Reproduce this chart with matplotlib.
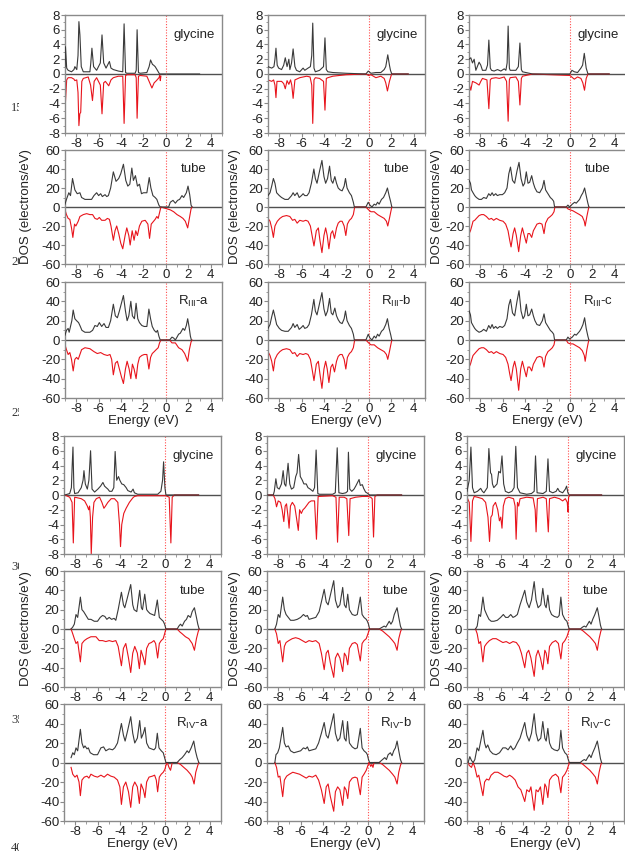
import matplotlib
matplotlib.use('Agg')
import matplotlib.pyplot as plt
from matplotlib.ticker import MultipleLocator
from matplotlib.transforms import Bbox

plt.rcParams['font.family'] = ['Liberation Sans', 'DejaVu Sans']
plt.rcParams['axes.unicode_minus'] = False

# ---- data: (energy eV, DOS) ----
# upper block: glycine / tube / R_III
gly3_a_up = [(-9.0, 1.0), (-8.96, 3.7), (-8.85, 0.8), (-8.72, 0.5), (-8.42, 0.3), (-8.2, 0.6), (-8.12, 1.0),
             (-7.95, 0.6), (-7.84, 2.5), (-7.76, 7.1), (-7.67, 5.3), (-7.55, 1.0), (-7.37, 0.3), (-6.78, 0.3),
             (-6.7, 1.5), (-6.6, 3.5), (-6.45, 1.0), (-6.18, 0.5), (-5.85, 1.5), (-5.7, 5.3), (-5.55, 1.5),
             (-5.34, 0.8), (-5.04, 1.7), (-4.9, 0.8), (-4.69, 0.6), (-4.24, 0.4), (-3.85, 0.3), (-3.73, 6.8),
             (-3.6, 0.2), (-3.49, 0.1), (-2.75, 0.1), (-2.65, 0.5), (-2.57, 6.0), (-2.45, 0.2), (-2.3, 0.1),
             (-1.7, 0.2), (-1.5, 1.0), (-1.37, 1.9), (-1.2, 1.3), (-1.1, 1.2), (-0.96, 1.0), (-0.8, 0.6),
             (-0.57, 0.0), (3.0, 0.0)]
gly3_a_dn = [(-9.0, -1.0), (-8.96, -3.8), (-8.85, -0.8), (-8.72, -0.5), (-8.42, -0.5), (-8.2, -0.7),
             (-8.12, -0.9), (-7.95, -0.8), (-7.84, -2.5), (-7.76, -7.0), (-7.68, -5.4), (-7.6, -5.2),
             (-7.5, -1.0), (-7.37, -0.6), (-6.93, -0.4), (-6.72, -1.5), (-6.55, -3.6), (-6.4, -1.0),
             (-6.18, -0.5), (-5.85, -1.5), (-5.7, -5.4), (-5.55, -1.2), (-5.4, -1.0), (-5.1, -1.6),
             (-4.9, -0.8), (-4.69, -0.5), (-4.24, -0.3), (-3.85, -0.3), (-3.73, -6.7), (-3.6, -0.2),
             (-3.45, -0.1), (-2.75, -0.1), (-2.65, -0.5), (-2.57, -6.0), (-2.45, -0.3), (-2.3, -0.2),
             (-1.7, -0.3), (-1.5, -1.0), (-1.25, -1.9), (-1.05, -1.2), (-0.85, -0.9), (-0.62, -0.5),
             (-0.55, -0.2), (-0.5, -0.9), (-0.45, -0.3)]
gly3_b_up = [(-9.0, 1.0), (-8.67, 0.8), (-8.47, 1.0), (-8.38, 2.0), (-8.29, 3.5), (-8.18, 1.2), (-8.05, 0.8),
             (-7.79, 0.6), (-7.6, 1.2), (-7.46, 2.2), (-7.3, 1.0), (-7.14, 2.0), (-7.05, 0.6), (-6.9, 1.5),
             (-6.76, 3.4), (-6.6, 1.0), (-6.46, 0.5), (-6.17, 0.3), (-5.87, 0.8), (-5.72, 0.5), (-5.43, 0.8),
             (-5.22, 1.0), (-5.1, 2.5), (-5.01, 6.9), (-4.9, 0.8), (-4.78, 0.3), (-4.4, 0.5), (-4.05, 1.0),
             (-3.92, 4.9), (-3.8, 0.6), (-3.66, 0.3), (-3.22, 0.2), (-2.04, 0.1), (-0.27, 0.0), (-0.06, 0.4),
             (0.18, 0.1), (0.62, 0.2), (1.06, 0.2), (1.36, 0.6), (1.5, 1.0), (1.68, 2.6), (1.83, 1.2),
             (1.92, 0.5), (2.04, 0.0), (3.5, 0.0)]
gly3_b_dn = [(-9.0, -0.8), (-8.67, -1.0), (-8.5, -0.8), (-8.38, -1.5), (-8.29, -3.2), (-8.2, -1.0),
             (-7.79, -1.0), (-7.6, -1.3), (-7.46, -2.0), (-7.3, -0.9), (-7.14, -1.4), (-6.99, -0.8),
             (-6.88, -1.5), (-6.76, -3.3), (-6.6, -0.8), (-6.17, -0.5), (-5.55, -0.3), (-5.25, -0.4),
             (-5.1, -1.5), (-5.01, -6.7), (-4.9, -0.8), (-4.78, -0.5), (-4.4, -0.6), (-4.05, -1.0),
             (-3.92, -4.9), (-3.8, -0.6), (-3.66, -0.5), (-3.22, -0.3), (-2.04, -0.1), (-0.27, 0.0),
             (-0.03, -0.2), (0.18, -0.1), (0.62, -0.5), (1.06, -0.3), (1.36, -0.6), (1.5, -1.2),
             (1.65, -2.3), (1.83, -1.0), (2.02, 0.0), (3.5, 0.0)]
gly3_c_up = [(-9.0, 2.0), (-8.84, 2.2), (-8.69, 1.5), (-8.54, 2.0), (-8.39, 0.5), (-8.1, 1.6), (-7.95, 1.2),
             (-7.8, 0.5), (-7.5, 0.5), (-7.35, 1.2), (-7.23, 4.6), (-7.1, 0.8), (-6.99, 0.5), (-6.76, 0.4),
             (-6.46, 0.6), (-6.16, 0.4), (-5.86, 0.7), (-5.71, 0.5), (-5.6, 1.5), (-5.51, 6.5), (-5.4, 0.8),
             (-5.33, 0.5), (-4.82, 0.5), (-4.6, 1.0), (-4.46, 4.2), (-4.33, 0.6), (-4.23, 0.3), (-3.63, 0.1),
             (-3.33, 0.0), (0.0, 0.0), (0.18, 0.5), (0.39, 0.3), (0.68, 0.2), (0.98, 0.8), (1.13, 1.2),
             (1.28, 2.8), (1.45, 0.8), (1.61, 0.0), (3.5, 0.0)]
gly3_c_dn = [(-9.0, -1.3), (-8.84, -2.2), (-8.69, -1.0), (-8.39, -1.2), (-8.1, -1.5), (-7.95, -1.0),
             (-7.8, -0.6), (-7.4, -0.8), (-7.23, -4.7), (-7.1, -0.8), (-6.99, -0.6), (-6.6, -0.5),
             (-6.3, -0.6), (-5.86, -0.4), (-5.65, -1.0), (-5.51, -6.4), (-5.4, -0.8), (-5.33, -0.5),
             (-4.82, -0.4), (-4.6, -1.0), (-4.46, -4.2), (-4.33, -0.6), (-4.23, -0.3), (-3.63, -0.1),
             (-3.33, 0.0), (0.0, -0.2), (0.39, -0.7), (0.68, -0.4), (0.98, -0.6), (1.15, -1.2), (1.3, -2.2),
             (1.45, -0.6), (1.61, 0.0), (3.5, 0.0)]

tube3_a_up = [(-9.0, 3), (-8.87, 8), (-8.66, 15), (-8.51, 12), (-8.33, 30), (-8.12, 18), (-7.91, 14),
              (-7.67, 15), (-7.52, 10), (-7.22, 8), (-6.63, 8), (-6.42, 12), (-6.18, 15), (-6.0, 12),
              (-5.82, 14), (-5.67, 11), (-5.43, 13), (-5.28, 11), (-5.13, 12), (-4.93, 20), (-4.69, 37),
              (-4.45, 27), (-4.21, 30), (-4.03, 35), (-3.79, 45), (-3.58, 28), (-3.4, 22), (-3.22, 24),
              (-3.04, 41), (-2.9, 28), (-2.72, 33), (-2.54, 22), (-2.36, 24), (-2.18, 14), (-2.0, 15),
              (-1.7, 15), (-1.49, 31), (-1.34, 20), (-1.16, 12), (-0.96, 10), (-0.81, 8), (-0.63, 2),
              (-0.51, 0), (0.24, 0), (0.39, 5), (0.63, 7), (0.84, 4), (1.04, 7), (1.22, 8), (1.43, 12),
              (1.58, 10), (1.82, 15), (1.97, 22), (2.12, 13), (2.24, 2), (2.33, 0)]
tube3_a_dn = [(-9.0, -3), (-8.87, -8), (-8.72, -12), (-8.57, -13), (-8.42, -22), (-8.3, -32), (-8.15, -18),
              (-8.03, -20), (-7.82, -15), (-7.67, -10), (-7.37, -8), (-7.07, -7), (-6.78, -8), (-6.54, -8),
              (-6.33, -12), (-6.12, -13), (-5.94, -11), (-5.73, -14), (-5.43, -14), (-5.22, -12),
              (-5.04, -13), (-4.9, -20), (-4.69, -35), (-4.54, -25), (-4.39, -20), (-4.21, -28),
              (-4.03, -38), (-3.85, -44), (-3.64, -30), (-3.49, -22), (-3.31, -30), (-3.19, -40),
              (-3.01, -25), (-2.84, -35), (-2.69, -25), (-2.54, -30), (-2.36, -20), (-2.15, -15),
              (-1.85, -14), (-1.61, -18), (-1.46, -33), (-1.31, -18), (-1.1, -15), (-0.96, -13),
              (-0.81, -10), (-0.69, -12), (-0.57, -6), (-0.45, 0), (0.39, -3), (0.69, -5), (0.99, -8),
              (1.28, -10), (1.52, -12), (1.73, -15), (1.94, -22), (2.09, -12), (2.24, -2), (2.33, 0)]
r3_a_up = [(-9.0, 5), (-8.87, 10), (-8.72, 12), (-8.63, 8), (-8.51, 14), (-8.39, 20), (-8.27, 31), (-8.12, 22),
           (-7.97, 20), (-7.79, 18), (-7.67, 15), (-7.49, 10), (-7.22, 8), (-6.78, 8), (-6.54, 10), (-6.33, 15),
           (-6.12, 14), (-5.94, 18), (-5.73, 14), (-5.52, 17), (-5.34, 13), (-5.13, 13), (-4.93, 20),
           (-4.69, 37), (-4.51, 25), (-4.33, 23), (-4.15, 30), (-3.97, 38), (-3.79, 46), (-3.61, 30),
           (-3.46, 20), (-3.31, 25), (-3.13, 40), (-2.99, 25), (-2.81, 22), (-2.66, 38), (-2.51, 22),
           (-2.36, 18), (-2.15, 15), (-1.94, 14), (-1.7, 14), (-1.52, 32), (-1.37, 22), (-1.22, 14),
           (-1.04, 10), (-0.87, 8), (-0.75, 10), (-0.63, 4), (-0.51, 0), (0.33, 0), (0.54, 3), (0.69, 2),
           (0.84, 0), (0.99, 3), (1.13, 6), (1.28, 7), (1.52, 12), (1.67, 10), (1.82, 15), (1.94, 22),
           (2.06, 14), (2.18, 4), (2.27, 0)]
r3_a_dn = [(-9.0, -5), (-8.87, -10), (-8.72, -15), (-8.57, -13), (-8.42, -20), (-8.27, -32), (-8.12, -20),
           (-7.97, -18), (-7.82, -20), (-7.67, -15), (-7.52, -10), (-7.22, -8), (-6.78, -9), (-6.42, -12),
           (-6.12, -14), (-5.82, -13), (-5.52, -15), (-5.22, -16), (-4.99, -15), (-4.84, -20), (-4.69, -36),
           (-4.51, -24), (-4.33, -22), (-4.15, -30), (-3.97, -38), (-3.79, -45), (-3.61, -30), (-3.46, -22),
           (-3.28, -30), (-3.13, -40), (-2.99, -25), (-2.84, -30), (-2.66, -40), (-2.51, -25), (-2.36, -18),
           (-2.15, -16), (-1.94, -15), (-1.7, -15), (-1.52, -30), (-1.37, -18), (-1.22, -14), (-1.04, -12),
           (-0.87, -10), (-0.69, -8), (-0.57, -3), (-0.45, 0), (0.33, 0), (0.54, -3), (0.84, -3),
           (1.13, -8), (1.43, -10), (1.67, -14), (1.94, -22), (2.09, -10), (2.24, -2), (2.33, 0)]

tube3_b_up = [(-9.0, 12), (-8.82, 15), (-8.67, 22), (-8.52, 30), (-8.38, 25), (-8.23, 15), (-7.99, 12),
              (-7.79, 10), (-7.49, 8), (-7.2, 8), (-6.9, 12), (-6.76, 15), (-6.61, 12), (-6.4, 15), (-6.22, 10),
              (-6.02, 12), (-5.87, 14), (-5.72, 12), (-5.52, 12), (-5.34, 15), (-5.13, 25), (-4.91, 40),
              (-4.78, 30), (-4.63, 25), (-4.4, 38), (-4.19, 49), (-4.01, 32), (-3.86, 25), (-3.69, 30),
              (-3.51, 43), (-3.36, 28), (-3.22, 25), (-3.04, 32), (-2.89, 25), (-2.74, 20), (-2.57, 18),
              (-2.39, 17), (-2.21, 22), (-2.09, 30), (-1.95, 20), (-1.74, 15), (-1.56, 12), (-1.39, 5),
              (-1.3, 0), (-0.27, 0), (-0.06, 5), (0.09, 2), (0.27, 0), (0.47, 3), (0.62, 2), (0.77, 5),
              (0.91, 3), (1.12, 8), (1.3, 10), (1.5, 15), (1.65, 20), (1.8, 12), (1.95, 5), (2.04, 0)]
tube3_b_dn = [(-9.0, -12), (-8.82, -15), (-8.67, -22), (-8.52, -32), (-8.38, -20), (-8.17, -15), (-7.94, -12),
              (-7.7, -10), (-7.35, -9), (-7.05, -10), (-6.81, -14), (-6.61, -13), (-6.4, -17), (-6.17, -14),
              (-5.87, -15), (-5.63, -14), (-5.43, -15), (-5.22, -20), (-5.07, -30), (-4.9, -41), (-4.69, -25),
              (-4.51, -22), (-4.37, -35), (-4.19, -48), (-4.01, -30), (-3.86, -22), (-3.72, -30),
              (-3.57, -44), (-3.39, -28), (-3.24, -25), (-3.07, -33), (-2.89, -22), (-2.74, -17),
              (-2.57, -15), (-2.39, -15), (-2.21, -20), (-2.06, -30), (-1.92, -18), (-1.74, -14),
              (-1.56, -12), (-1.39, -8), (-1.27, 0), (-0.27, 0), (-0.03, -3), (0.18, -5), (0.47, -5),
              (0.77, -8), (1.06, -10), (1.36, -12), (1.56, -15), (1.68, -20), (1.83, -12), (1.95, -5), (2.04, 0)]
r3_b_up = [(-9.0, 12), (-8.82, 16), (-8.67, 24), (-8.52, 31), (-8.38, 24), (-8.23, 16), (-7.99, 12), (-7.79, 10),
           (-7.49, 9), (-7.2, 9), (-6.9, 13), (-6.76, 17), (-6.61, 13), (-6.4, 16), (-6.22, 11), (-6.02, 13),
           (-5.87, 15), (-5.72, 12), (-5.52, 13), (-5.34, 16), (-5.13, 26), (-4.91, 42), (-4.78, 30),
           (-4.63, 26), (-4.4, 38), (-4.19, 49), (-4.01, 32), (-3.86, 25), (-3.69, 30), (-3.51, 43),
           (-3.36, 28), (-3.22, 26), (-3.04, 33), (-2.89, 25), (-2.74, 21), (-2.57, 18), (-2.39, 17),
           (-2.21, 22), (-2.09, 30), (-1.95, 20), (-1.74, 15), (-1.56, 12), (-1.39, 6), (-1.3, 0), (-0.27, 0),
           (-0.06, 6), (0.09, 2), (0.27, 0), (0.47, 4), (0.62, 2), (0.77, 6), (0.91, 4), (1.12, 9), (1.3, 11),
           (1.5, 16), (1.65, 22), (1.8, 12), (1.95, 5), (2.04, 0)]
r3_b_dn = [(-9.0, -12), (-8.82, -16), (-8.67, -22), (-8.52, -32), (-8.38, -20), (-8.17, -15), (-7.94, -12),
           (-7.7, -10), (-7.35, -9), (-7.05, -10), (-6.81, -14), (-6.61, -13), (-6.4, -17), (-6.17, -14),
           (-5.87, -15), (-5.63, -14), (-5.43, -15), (-5.22, -20), (-5.07, -30), (-4.9, -42), (-4.69, -25),
           (-4.51, -22), (-4.37, -35), (-4.19, -50), (-4.01, -30), (-3.86, -22), (-3.72, -30), (-3.57, -44),
           (-3.39, -28), (-3.24, -25), (-3.07, -33), (-2.89, -22), (-2.74, -17), (-2.57, -15), (-2.39, -15),
           (-2.21, -20), (-2.06, -30), (-1.92, -18), (-1.74, -14), (-1.56, -12), (-1.39, -8), (-1.27, 0),
           (-0.27, 0), (-0.03, -3), (0.18, -5), (0.47, -5), (0.77, -8), (1.06, -10), (1.36, -12),
           (1.56, -15), (1.68, -20), (1.83, -12), (1.95, -5), (2.04, 0)]

tube3_c_up = [(-8.99, 28), (-8.87, 25), (-8.78, 18), (-8.64, 15), (-8.49, 12), (-8.34, 10), (-8.1, 8),
              (-7.89, 8), (-7.69, 10), (-7.45, 9), (-7.24, 14), (-7.09, 12), (-6.94, 15), (-6.8, 12),
              (-6.62, 14), (-6.47, 12), (-6.26, 13), (-6.02, 13), (-5.82, 15), (-5.61, 20), (-5.45, 35),
              (-5.3, 42), (-5.12, 28), (-4.93, 25), (-4.72, 38), (-4.54, 47), (-4.36, 30), (-4.18, 22),
              (-4.04, 25), (-3.89, 37), (-3.74, 25), (-3.59, 26), (-3.41, 33), (-3.26, 25), (-3.12, 20),
              (-2.94, 16), (-2.7, 15), (-2.46, 20), (-2.31, 28), (-2.17, 18), (-1.96, 14), (-1.75, 10),
              (-1.57, 8), (-1.45, 6), (-1.37, 0), (-0.33, 0), (-0.18, 2), (-0.03, 0), (0.21, 3), (0.42, 5),
              (0.56, 4), (0.71, 6), (0.86, 8), (1.01, 12), (1.16, 15), (1.31, 20), (1.45, 12), (1.6, 4),
              (1.69, 0)]
tube3_c_dn = [(-8.99, -28), (-8.87, -25), (-8.75, -20), (-8.64, -15), (-8.49, -14), (-8.34, -12), (-8.1, -9),
              (-7.89, -8), (-7.69, -8), (-7.45, -10), (-7.21, -13), (-7.0, -12), (-6.8, -14), (-6.56, -12),
              (-6.26, -14), (-5.96, -15), (-5.73, -18), (-5.52, -25), (-5.37, -35), (-5.25, -42),
              (-5.07, -28), (-4.93, -22), (-4.78, -30), (-4.57, -47), (-4.39, -30), (-4.24, -22),
              (-4.07, -30), (-3.89, -38), (-3.74, -28), (-3.59, -28), (-3.41, -32), (-3.26, -25),
              (-3.12, -22), (-2.94, -18), (-2.7, -17), (-2.49, -18), (-2.31, -28), (-2.17, -17),
              (-1.96, -12), (-1.75, -10), (-1.57, -8), (-1.42, -5), (-1.34, 0), (-0.33, 0), (-0.18, -2),
              (0.03, -3), (0.27, -4), (0.56, -6), (0.86, -8), (1.1, -10), (1.28, -15), (1.36, -20),
              (1.51, -10), (1.63, -3), (1.69, 0)]
r3_c_up = [(-8.99, 30), (-8.87, 26), (-8.78, 18), (-8.64, 15), (-8.49, 12), (-8.34, 10), (-8.1, 8), (-7.89, 9),
           (-7.69, 11), (-7.45, 9), (-7.24, 15), (-7.09, 12), (-6.94, 16), (-6.8, 12), (-6.62, 14), (-6.47, 12),
           (-6.26, 14), (-6.02, 13), (-5.82, 15), (-5.61, 22), (-5.45, 36), (-5.3, 42), (-5.12, 28),
           (-4.93, 25), (-4.72, 40), (-4.54, 51), (-4.36, 30), (-4.18, 22), (-4.04, 25), (-3.89, 37),
           (-3.74, 25), (-3.59, 26), (-3.41, 32), (-3.26, 25), (-3.12, 20), (-2.94, 16), (-2.7, 15),
           (-2.46, 20), (-2.31, 27), (-2.17, 18), (-1.96, 14), (-1.75, 10), (-1.57, 8), (-1.45, 6), (-1.37, 0),
           (-0.33, 0), (-0.18, 3), (-0.03, 1), (0.21, 3), (0.42, 6), (0.56, 5), (0.71, 7), (0.86, 9),
           (1.01, 12), (1.16, 16), (1.31, 23), (1.45, 12), (1.6, 4), (1.69, 0)]
r3_c_dn = [(-8.99, -28), (-8.87, -25), (-8.75, -20), (-8.64, -16), (-8.49, -14), (-8.34, -12), (-8.1, -9),
           (-7.89, -8), (-7.69, -8), (-7.45, -10), (-7.21, -13), (-7.0, -12), (-6.8, -14), (-6.56, -12),
           (-6.26, -14), (-5.96, -15), (-5.73, -18), (-5.52, -25), (-5.37, -35), (-5.25, -42), (-5.07, -28),
           (-4.93, -22), (-4.78, -30), (-4.57, -52), (-4.39, -30), (-4.24, -22), (-4.07, -30), (-3.89, -38),
           (-3.74, -28), (-3.59, -28), (-3.41, -32), (-3.26, -25), (-3.12, -22), (-2.94, -18), (-2.7, -17),
           (-2.49, -18), (-2.31, -28), (-2.17, -17), (-1.96, -12), (-1.75, -10), (-1.57, -8), (-1.42, -5),
           (-1.34, 0), (-0.33, 0), (-0.18, -3), (0.03, -4), (0.27, -4), (0.56, -6), (0.86, -8), (1.1, -11),
           (1.28, -16), (1.36, -22), (1.51, -10), (1.63, -3), (1.69, 0)]

# lower block: glycine / tube / R_IV
gly4_a_up = [(-8.93, 0), (-8.49, 0.2), (-8.34, 1.0), (-8.27, 4.0), (-8.2, 6.5), (-8.12, 1.0), (-8.05, 0.2),
             (-7.75, 0.3), (-7.46, 1.0), (-7.3, 2.0), (-7.22, 3.3), (-7.1, 1.5), (-6.92, 0.8), (-6.78, 2.0),
             (-6.63, 6.0), (-6.5, 0.8), (-6.27, 0.4), (-5.98, 0.8), (-5.74, 1.2), (-5.53, 1.7), (-5.38, 1.2),
             (-5.24, 1.0), (-5.09, 0.8), (-4.94, 0.5), (-4.73, 0.5), (-4.56, 1.0), (-4.44, 5.9), (-4.3, 2.0),
             (-4.14, 2.5), (-4.02, 2.0), (-3.85, 1.5), (-3.67, 1.4), (-3.46, 1.0), (-3.31, 0.6), (-3.02, 0.4),
             (-2.84, 0.8), (-2.72, 0.3), (-2.43, 0.1), (-0.65, 0.1), (-0.36, 0.5), (-0.21, 2.0), (-0.12, 4.5),
             (0.0, 1.0), (0.09, 0.0), (3.0, 0.0)]
gly4_a_dn = [(-8.93, 0), (-8.49, -0.3), (-8.28, -1.0), (-8.17, -6.5), (-8.05, -0.3), (-7.75, -0.4),
             (-7.46, -0.5), (-7.16, -0.8), (-6.92, -1.5), (-6.8, -2.0), (-6.72, -1.5), (-6.65, -3.0),
             (-6.57, -8.0), (-6.45, -3.0), (-6.33, -1.0), (-6.12, -0.5), (-5.83, -0.3), (-5.62, -1.0),
             (-5.44, -1.8), (-5.3, -1.5), (-5.09, -1.0), (-4.79, -0.5), (-4.5, -0.5), (-4.2, -1.0),
             (-4.05, -4.0), (-3.96, -7.0), (-3.85, -4.0), (-3.67, -2.5), (-3.46, -1.8), (-3.17, -1.0),
             (-2.87, -0.4), (-2.72, -0.2), (-2.43, -0.1), (-0.65, -0.1), (0.09, -0.1), (0.38, -0.3),
             (0.53, -6.5), (0.65, -0.3), (0.83, 0.0), (3.0, 0.0)]
gly4_b_up = [(-9.0, 0), (-8.44, 0), (-8.35, 0.5), (-8.21, 2.2), (-8.09, 1.0), (-7.91, 0.8), (-7.71, 1.5),
             (-7.56, 3.3), (-7.44, 1.5), (-7.32, 1.2), (-7.12, 4.3), (-6.97, 1.5), (-6.82, 0.8), (-6.62, 1.0),
             (-6.44, 2.5), (-6.32, 3.0), (-6.18, 5.5), (-6.03, 2.5), (-5.85, 2.0), (-5.71, 1.5), (-5.5, 1.5),
             (-5.35, 1.0), (-5.15, 0.8), (-4.91, 0.5), (-4.76, 1.0), (-4.62, 6.1), (-4.47, 0.2), (-4.32, 0.1),
             (-3.15, 0.1), (-2.91, 0.3), (-2.74, 6.4), (-2.59, 0.3), (-2.26, 0.2), (-1.97, 0.3), (-1.82, 0.5),
             (-1.74, 5.8), (-1.62, 0.8), (-1.44, 0.5), (-1.24, 0.8), (-1.09, 1.2), (-0.79, 2.1), (-0.68, 1.3),
             (-0.5, 1.4), (-0.38, 0.9), (-0.21, 0.4), (0.0, 0.2), (0.15, 0.0), (3.0, 0.0)]
gly4_b_dn = [(-9.0, 0), (-8.44, 0), (-8.29, -0.5), (-8.15, -1.6), (-8.0, -0.8), (-7.79, -1.0), (-7.65, -2.0),
             (-7.5, -3.6), (-7.38, -1.5), (-7.26, -1.2), (-7.12, -3.0), (-7.03, -4.5), (-6.91, -1.5),
             (-6.74, -1.0), (-6.53, -1.5), (-6.38, -3.0), (-6.21, -4.8), (-6.09, -2.0), (-5.94, -2.5),
             (-5.79, -2.0), (-5.65, -1.8), (-5.5, -1.5), (-5.26, -1.0), (-5.06, -0.8), (-4.76, -0.8),
             (-4.59, -6.0), (-4.44, -0.2), (-3.15, -0.1), (-2.85, -0.3), (-2.71, -6.4), (-2.56, -0.3),
             (-2.12, -0.3), (-1.88, -0.5), (-1.71, -5.5), (-1.59, -0.5), (-1.09, -0.3), (-0.5, -0.2),
             (0.0, -0.2), (0.24, -0.3), (0.38, -0.5), (0.5, -5.7), (0.62, -0.2), (0.82, 0.0), (3.0, 0.0)]
gly4_c_up = [(-9.0, 0.5), (-8.8, 2.0), (-8.65, 6.5), (-8.51, 1.0), (-8.36, 0.3), (-8.07, 0.5), (-7.78, 0.9),
             (-7.63, 0.5), (-7.49, 0.3), (-7.19, 1.0), (-7.05, 6.3), (-6.9, 3.0), (-6.81, 2.8), (-6.73, 1.5),
             (-6.61, 1.0), (-6.32, 1.5), (-6.17, 3.2), (-6.02, 3.0), (-5.88, 5.3), (-5.73, 1.5), (-5.58, 0.5),
             (-5.29, 0.3), (-5.0, 0.5), (-4.8, 1.0), (-4.65, 6.6), (-4.5, 1.0), (-4.27, 0.3), (-3.68, 0.1),
             (-3.25, 0.2), (-3.01, 0.5), (-2.89, 5.3), (-2.75, 0.3), (-2.22, 0.2), (-1.93, 0.5), (-1.78, 4.9),
             (-1.64, 0.5), (-1.35, 0.3), (-1.05, 0.5), (-0.91, 0.9), (-0.76, 0.5), (-0.47, 0.3), (-0.23, 0.8),
             (-0.12, 1.2), (0.0, 0.3), (0.12, 0.0), (3.0, 0.0)]
gly4_c_dn = [(-9.0, -0.3), (-8.8, -1.0), (-8.65, -6.3), (-8.51, -0.8), (-8.36, -0.2), (-8.07, -0.3),
             (-7.63, -0.5), (-7.34, -1.0), (-7.13, -3.0), (-6.99, -6.3), (-6.87, -3.0), (-6.75, -2.7),
             (-6.67, -1.5), (-6.46, -1.0), (-6.26, -2.0), (-6.11, -3.5), (-5.99, -3.0), (-5.88, -4.5),
             (-5.76, -1.5), (-5.58, -0.5), (-5.29, -0.3), (-4.85, -0.5), (-4.71, -1.5), (-4.62, -6.0),
             (-4.5, -1.0), (-4.39, -1.5), (-4.27, -0.5), (-3.68, -0.3), (-3.1, -0.4), (-2.92, -2.0),
             (-2.84, -5.0), (-2.72, -0.5), (-2.22, -0.3), (-1.93, -0.5), (-1.75, -5.0), (-1.64, -0.5),
             (-1.2, -0.3), (-0.76, -0.5), (-0.47, -0.8), (-0.23, -0.5), (-0.06, -1.0), (0.0, -2.3),
             (0.06, -0.3), (0.18, 0.0), (3.0, 0.0)]

tube4_a_up = [(-8.37, 0), (-8.22, 2), (-8.08, 5), (-7.93, 15), (-7.78, 12), (-7.54, 33), (-7.4, 20), (-7.25, 18),
              (-7.04, 14), (-6.83, 10), (-6.6, 10), (-6.3, 8), (-6.01, 8), (-5.77, 12), (-5.56, 14),
              (-5.36, 13), (-5.18, 10), (-4.97, 12), (-4.76, 10), (-4.53, 11), (-4.38, 9), (-4.17, 20),
              (-3.88, 38), (-3.7, 25), (-3.58, 22), (-3.4, 30), (-3.05, 46), (-2.87, 25), (-2.75, 20),
              (-2.51, 18), (-2.25, 40), (-2.1, 22), (-2.0, 20), (-1.8, 36), (-1.63, 20), (-1.5, 18),
              (-1.33, 16), (-1.12, 15), (-0.92, 14), (-0.68, 30), (-0.5, 12), (-0.33, 10), (-0.15, 8),
              (-0.03, 5), (0.09, 0), (1.09, 0), (1.24, 3), (1.39, 5), (1.54, 3), (1.75, 8), (1.92, 10),
              (2.07, 14), (2.28, 12), (2.43, 18), (2.63, 22), (2.81, 12), (2.93, 5), (3.05, 0)]
tube4_a_dn = [(-8.37, 0), (-8.22, -5), (-8.08, -10), (-7.93, -15), (-7.78, -13), (-7.54, -34), (-7.4, -15),
              (-7.19, -12), (-6.95, -10), (-6.6, -8), (-6.15, -8), (-5.86, -12), (-5.56, -12), (-5.27, -13),
              (-4.97, -12), (-4.67, -13), (-4.38, -12), (-4.17, -18), (-3.88, -38), (-3.7, -20), (-3.49, -15),
              (-3.25, -30), (-3.05, -45), (-2.87, -25), (-2.69, -18), (-2.46, -25), (-2.28, -41), (-2.13, -22),
              (-1.92, -30), (-1.78, -37), (-1.63, -20), (-1.42, -15), (-1.21, -14), (-0.98, -12), (-0.83, -15),
              (-0.65, -30), (-0.5, -15), (-0.33, -12), (-0.15, -10), (-0.03, -5), (0.09, 0), (1.09, 0),
              (1.33, -3), (1.54, -5), (1.83, -8), (2.13, -10), (2.43, -15), (2.63, -22), (2.81, -10),
              (2.96, -3), (3.05, 0)]
r4_a_up = [(-8.37, 5), (-8.22, 10), (-8.08, 8), (-7.93, 15), (-7.78, 12), (-7.54, 34), (-7.4, 20), (-7.25, 15),
           (-7.13, 17), (-6.95, 14), (-6.83, 15), (-6.66, 10), (-6.36, 8), (-6.01, 8), (-5.71, 15), (-5.47, 16),
           (-5.27, 12), (-4.97, 14), (-4.67, 13), (-4.47, 15), (-4.23, 20), (-3.88, 40), (-3.7, 28),
           (-3.55, 22), (-3.34, 32), (-3.05, 47), (-2.87, 30), (-2.69, 20), (-2.46, 25), (-2.25, 43),
           (-2.1, 25), (-1.92, 30), (-1.78, 36), (-1.63, 20), (-1.42, 15), (-1.21, 14), (-0.98, 13),
           (-0.83, 15), (-0.68, 30), (-0.53, 15), (-0.33, 12), (-0.15, 10), (-0.03, 5), (0.09, 0), (1.09, 0),
           (1.33, 3), (1.54, 5), (1.75, 8), (1.98, 12), (2.13, 10), (2.34, 15), (2.57, 22), (2.72, 12),
           (2.87, 5), (3.02, 0)]
r4_a_dn = [(-8.37, -5), (-8.22, -12), (-8.02, -15), (-7.84, -13), (-7.66, -20), (-7.54, -34), (-7.4, -18),
           (-7.19, -15), (-6.95, -14), (-6.78, -16), (-6.6, -12), (-6.3, -14), (-6.01, -15), (-5.71, -13),
           (-5.42, -15), (-5.12, -12), (-4.82, -14), (-4.53, -15), (-4.23, -18), (-4.02, -25), (-3.88, -43),
           (-3.7, -25), (-3.49, -20), (-3.25, -30), (-3.05, -46), (-2.87, -25), (-2.69, -20), (-2.46, -25),
           (-2.28, -42), (-2.13, -22), (-1.92, -28), (-1.78, -36), (-1.63, -20), (-1.42, -15), (-1.12, -14),
           (-0.92, -13), (-0.77, -18), (-0.65, -30), (-0.5, -15), (-0.33, -12), (-0.15, -10), (0.0, -7),
           (0.09, -3), (0.21, 0), (0.36, -5), (0.5, -8), (0.65, 0), (1.09, 0), (1.39, -2), (1.68, -5),
           (1.98, -8), (2.28, -12), (2.43, -15), (2.6, -22), (2.75, -10), (2.93, -3), (3.02, 0)]

tube4_b_up = [(-8.3, 0), (-8.15, 5), (-8.0, 15), (-7.85, 12), (-7.6, 33), (-7.45, 20), (-7.3, 15), (-7.1, 12),
              (-6.9, 9), (-6.6, 9), (-6.3, 10), (-6.0, 12), (-5.75, 15), (-5.55, 13), (-5.4, 14), (-5.25, 10),
              (-4.95, 11), (-4.65, 12), (-4.35, 18), (-4.15, 28), (-3.9, 41), (-3.72, 28), (-3.55, 25),
              (-3.35, 35), (-3.05, 50), (-2.9, 30), (-2.7, 22), (-2.5, 25), (-2.25, 43), (-2.1, 25),
              (-1.95, 22), (-1.8, 36), (-1.65, 20), (-1.4, 15), (-1.15, 14), (-0.95, 15), (-0.68, 33),
              (-0.52, 15), (-0.35, 12), (-0.15, 10), (-0.05, 8), (0.05, 5), (0.15, 0), (1.0, 0), (1.3, 2),
              (1.45, 3), (1.6, 2), (1.75, 5), (1.9, 8), (2.05, 5), (2.2, 8), (2.35, 15), (2.6, 22), (2.75, 12),
              (2.9, 3), (3.0, 0)]
tube4_b_dn = [(-8.3, 0), (-8.15, -5), (-8.0, -15), (-7.85, -12), (-7.6, -34), (-7.45, -18), (-7.3, -14),
              (-7.05, -12), (-6.75, -10), (-6.45, -9), (-6.15, -10), (-5.85, -12), (-5.55, -14), (-5.25, -12),
              (-4.95, -13), (-4.65, -12), (-4.35, -15), (-4.15, -25), (-3.9, -42), (-3.72, -25), (-3.55, -22),
              (-3.35, -35), (-3.05, -50), (-2.9, -30), (-2.7, -25), (-2.5, -30), (-2.25, -44), (-2.1, -25),
              (-1.95, -28), (-1.8, -37), (-1.65, -20), (-1.4, -15), (-1.15, -14), (-0.95, -16), (-0.68, -33),
              (-0.52, -15), (-0.35, -12), (-0.15, -10), (0.0, -5), (0.15, 0), (1.0, 0), (1.3, -2), (1.6, -5),
              (1.9, -8), (2.2, -12), (2.4, -15), (2.6, -22), (2.75, -10), (2.9, -3), (3.0, 0)]
r4_b_up = [(-8.3, 0), (-8.2, 8), (-8.05, 10), (-7.9, 15), (-7.6, 36), (-7.45, 20), (-7.3, 16), (-7.1, 17),
           (-6.9, 12), (-6.6, 10), (-6.3, 11), (-6.0, 12), (-5.75, 15), (-5.55, 14), (-5.4, 16), (-5.25, 12),
           (-4.95, 13), (-4.65, 14), (-4.4, 20), (-4.15, 30), (-3.9, 41), (-3.72, 28), (-3.55, 25), (-3.35, 35),
           (-3.05, 50), (-2.9, 30), (-2.7, 22), (-2.5, 25), (-2.25, 43), (-2.1, 25), (-1.95, 22), (-1.82, 42),
           (-1.65, 20), (-1.4, 16), (-1.15, 14), (-0.95, 15), (-0.68, 35), (-0.52, 15), (-0.35, 12),
           (-0.15, 10), (-0.05, 8), (0.05, 3), (0.15, 0), (1.0, 0), (1.3, 3), (1.5, 5), (1.65, 3), (1.8, 8),
           (2.0, 10), (2.15, 7), (2.3, 12), (2.45, 15), (2.6, 22), (2.75, 12), (2.9, 3), (3.0, 0)]
r4_b_dn = [(-8.3, 0), (-8.15, -5), (-8.0, -15), (-7.85, -14), (-7.6, -35), (-7.45, -18), (-7.25, -14),
           (-7.0, -12), (-6.7, -10), (-6.4, -11), (-6.1, -12), (-5.8, -14), (-5.5, -16), (-5.25, -14),
           (-4.95, -15), (-4.65, -13), (-4.4, -18), (-4.15, -28), (-3.9, -42), (-3.72, -25), (-3.55, -22),
           (-3.35, -35), (-3.05, -50), (-2.9, -30), (-2.7, -25), (-2.5, -28), (-2.25, -44), (-2.1, -25),
           (-1.95, -28), (-1.8, -37), (-1.65, -20), (-1.4, -16), (-1.15, -15), (-0.95, -16), (-0.68, -33),
           (-0.52, -15), (-0.35, -12), (-0.15, -8), (0.0, -3), (0.1, 0), (0.25, -4), (0.35, -2), (0.45, -5),
           (0.55, 0), (1.0, 0), (1.3, -2), (1.6, -5), (1.9, -8), (2.2, -12), (2.4, -15), (2.6, -22),
           (2.75, -10), (2.9, -3), (3.0, 0)]

tube4_c_up = [(-8.24, 0), (-8.09, 3), (-7.94, 15), (-7.79, 13), (-7.58, 33), (-7.43, 20), (-7.25, 15),
              (-7.04, 10), (-6.84, 8), (-6.6, 8), (-6.3, 9), (-6.0, 12), (-5.76, 15), (-5.55, 12), (-5.34, 12),
              (-5.1, 15), (-4.9, 12), (-4.72, 13), (-4.51, 15), (-4.27, 25), (-3.85, 40), (-3.67, 28),
              (-3.46, 22), (-3.25, 30), (-3.01, 49), (-2.84, 30), (-2.66, 22), (-2.42, 25), (-2.24, 42),
              (-2.06, 25), (-1.94, 22), (-1.79, 35), (-1.64, 20), (-1.46, 15), (-1.22, 13), (-0.93, 12),
              (-0.78, 14), (-0.63, 33), (-0.48, 15), (-0.27, 10), (-0.09, 8), (0.03, 3), (0.12, 0), (1.1, 0),
              (1.31, 2), (1.46, 3), (1.61, 2), (1.76, 5), (1.91, 8), (2.06, 5), (2.21, 10), (2.4, 15),
              (2.62, 22), (2.78, 12), (2.9, 4), (3.0, 0)]
tube4_c_dn = [(-8.24, 0), (-8.09, -5), (-7.94, -15), (-7.79, -13), (-7.58, -34), (-7.43, -18), (-7.25, -15),
              (-7.0, -12), (-6.7, -10), (-6.4, -10), (-6.1, -12), (-5.8, -14), (-5.5, -13), (-5.2, -15),
              (-4.9, -13), (-4.6, -14), (-4.35, -18), (-4.15, -25), (-3.85, -40), (-3.67, -25), (-3.5, -22),
              (-3.3, -30), (-3.01, -49), (-2.84, -28), (-2.66, -22), (-2.45, -30), (-2.24, -42), (-2.06, -22),
              (-1.94, -25), (-1.79, -36), (-1.64, -18), (-1.4, -14), (-1.1, -12), (-0.85, -15), (-0.63, -31),
              (-0.48, -15), (-0.27, -12), (-0.09, -8), (0.05, -3), (0.15, 0), (1.1, 0), (1.35, -2), (1.65, -5),
              (1.95, -8), (2.25, -12), (2.45, -15), (2.62, -22), (2.78, -10), (2.92, -3), (3.0, 0)]
r4_c_up = [(-8.9, 0), (-8.75, 6), (-8.6, 2), (-8.45, 0), (-8.3, 3), (-8.1, 15), (-7.95, 12), (-7.58, 33),
           (-7.43, 20), (-7.3, 15), (-7.15, 18), (-6.95, 12), (-6.7, 9), (-6.4, 8), (-6.1, 10), (-5.8, 15),
           (-5.55, 15), (-5.34, 13), (-5.1, 17), (-4.9, 13), (-4.72, 15), (-4.51, 20), (-4.27, 25), (-3.85, 41),
           (-3.67, 28), (-3.46, 22), (-3.25, 30), (-3.01, 50), (-2.84, 30), (-2.66, 22), (-2.42, 25),
           (-2.24, 42), (-2.06, 25), (-1.94, 22), (-1.79, 35), (-1.64, 20), (-1.46, 15), (-1.22, 13),
           (-0.93, 12), (-0.78, 14), (-0.63, 33), (-0.48, 15), (-0.27, 10), (-0.09, 8), (0.03, 3), (0.12, 0),
           (1.1, 0), (1.31, 2), (1.46, 3), (1.61, 2), (1.76, 5), (1.91, 8), (2.06, 5), (2.21, 10), (2.4, 15),
           (2.62, 22), (2.78, 12), (2.9, 4), (3.0, 0)]
r4_c_dn = [(-8.9, 0), (-8.8, -3), (-8.6, -5), (-8.45, 0), (-8.3, -5), (-8.1, -15), (-7.95, -13), (-7.58, -34),
           (-7.43, -20), (-7.25, -17), (-7.05, -18), (-6.85, -13), (-6.55, -10), (-6.25, -10), (-5.95, -12),
           (-5.7, -14), (-5.45, -15), (-5.2, -13), (-4.95, -15), (-4.7, -18), (-4.45, -25), (-4.2, -28),
           (-3.85, -40), (-3.67, -28), (-3.45, -30), (-3.3, -25), (-3.01, -49), (-2.84, -28), (-2.66, -30),
           (-2.45, -25), (-2.24, -43), (-2.06, -22), (-1.94, -25), (-1.79, -36), (-1.64, -18), (-1.4, -14),
           (-1.1, -12), (-0.85, -15), (-0.63, -31), (-0.48, -15), (-0.27, -12), (-0.09, -8), (0.05, -3),
           (0.15, 0), (1.1, 0), (1.35, -2), (1.65, -5), (1.95, -8), (2.25, -12), (2.45, -15), (2.62, -22),
           (2.78, -10), (2.92, -3), (3.0, 0)]

labels_top = ['glycine', 'tube']
labels_r3 = [r'R$_\mathregular{III}$-a', r'R$_\mathregular{III}$-b', r'R$_\mathregular{III}$-c']
labels_r4 = [r'R$_\mathregular{IV}$-a', r'R$_\mathregular{IV}$-b', r'R$_\mathregular{IV}$-c']
line_numbers = ['15', '20', '25', '30', '35', '40']

# ---- layout (pixels) ----
W, H = 625, 855
fig = plt.figure(figsize=(W / 100, H / 100), dpi=100)

cols_up = [65, 268, 469]
cols_lo = [64, 267, 467]
dos_x = [26, 235, 437]
pw = 157
rows_up = [(15, 133), (150, 264), (282, 398)]
rows_lo = [(436, 554), (571, 687), (704, 821)]

blocks = [
    (cols_up, rows_up, [(gly3_a_up, gly3_a_dn), (gly3_b_up, gly3_b_dn), (gly3_c_up, gly3_c_dn)],
     [(tube3_a_up, tube3_a_dn), (tube3_b_up, tube3_b_dn), (tube3_c_up, tube3_c_dn)],
     [(r3_a_up, r3_a_dn), (r3_b_up, r3_b_dn), (r3_c_up, r3_c_dn)], labels_r3),
    (cols_lo, rows_lo, [(gly4_a_up, gly4_a_dn), (gly4_b_up, gly4_b_dn), (gly4_c_up, gly4_c_dn)],
     [(tube4_a_up, tube4_a_dn), (tube4_b_up, tube4_b_dn), (tube4_c_up, tube4_c_dn)],
     [(r4_a_up, r4_a_dn), (r4_b_up, r4_b_dn), (r4_c_up, r4_c_dn)], labels_r4),
]


def panel(x0, top, bot, up, dn, label, gly):
    ax = fig.add_axes([x0 / W, 1 - bot / H, pw / W, (bot - top) / H])
    ax.axhline(0, color='#505050', lw=1.0, zorder=1)
    ax.axvline(0, color='#ff4d4d', lw=0.8, ls=(0, (1, 1.5)), zorder=1)
    e, d = zip(*dn)
    ax.plot(e, d, color='#e8141c', lw=0.8, zorder=2)
    e, d = zip(*up)
    ax.plot(e, d, color='#3a3a3a', lw=0.8, zorder=3)
    ax.set_xlim(-9, 5)
    ax.xaxis.set_major_locator(MultipleLocator(2))
    ax.xaxis.set_minor_locator(MultipleLocator(1))
    if gly:
        ax.set_ylim(-8, 8)
        ax.yaxis.set_major_locator(MultipleLocator(2))
        ax.yaxis.set_minor_locator(MultipleLocator(1))
    else:
        ax.set_ylim(-60, 60)
        ax.yaxis.set_major_locator(MultipleLocator(20))
        ax.yaxis.set_minor_locator(MultipleLocator(10))
    for s in ax.spines.values():
        s.set_color('#8a8a8a')
        s.set_linewidth(1.0)
    ax.tick_params(which='both', direction='out', colors='#8a8a8a', labelcolor='#222222',
                   labelsize=9.5, pad=0.5)
    ax.tick_params(which='major', length=3)
    ax.tick_params(which='minor', length=1.8)
    ax.text(0.82, 0.83, label, transform=ax.transAxes, ha='center', va='center',
            fontsize=9.5, color='#222222')
    return ax


for cols, rows, glys, tubes, rs, rlab in blocks:
    for j in range(3):
        panel(cols[j], rows[0][0], rows[0][1], glys[j][0], glys[j][1], labels_top[0], True)
        panel(cols[j], rows[1][0], rows[1][1], tubes[j][0], tubes[j][1], labels_top[1], False)
        panel(cols[j], rows[2][0], rows[2][1], rs[j][0], rs[j][1], rlab[j], False)
        cx = (cols[j] + pw / 2) / W
        fig.text(cx, 1 - (rows[2][1] + 23) / H, 'Energy (eV)', ha='center', va='center',
                 fontsize=9.5, color='#222222')
        fig.text(dos_x[j] / W, 1 - (rows[1][0] + rows[1][1]) / 2 / H, 'DOS (electrons/eV)',
                 rotation=90, ha='center', va='center', fontsize=9.5, color='#222222')

# margin line numbers of the source page (clipped by the page)
num_y = [108, 262, 413, 567, 720, 848]
clip = Bbox.from_extents(0, 0, 19, H)
for t, y in zip(line_numbers, num_y):
    txt = fig.text(11 / W, 1 - y / H, t, ha='left', va='center', fontsize=9,
                   family='Liberation Serif', color='#333333')
    txt.set_clip_box(clip)
    txt.set_clip_on(True)

fig.savefig('out.png', dpi=100)
